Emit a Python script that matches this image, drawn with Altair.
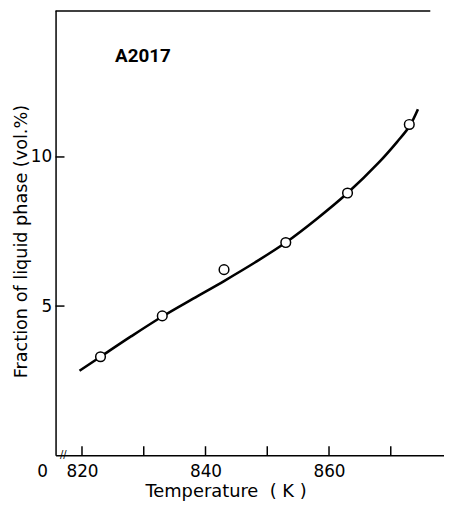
import altair as alt
import pandas as pd

# measured data points (open circles)
temp_pts = [823, 833, 843, 853, 863, 873]
frac_pts = [3.30, 4.67, 6.22, 7.13, 8.79, 11.09]

# fitted curve
curve_t = [819.6, 823, 828, 833, 838, 843, 848, 853, 858, 863, 868, 871, 873, 874.4]
curve_v = [2.83, 3.30, 3.99, 4.65, 5.25, 5.84, 6.46, 7.13, 7.92, 8.79, 9.80, 10.50, 11.02, 11.60]

x_ticks = [820, 830, 840, 850, 860, 870]
x_labels = [820, 840, 860]
y_ticks = [5, 10]

X_MIN, X_MAX = 815.72, 878.62
Y_MAX = 14.92
TOP_LINE_END = 876.4

FONT = "DejaVu Sans"
W, H = 392, 449

xs = alt.Scale(domain=[X_MIN, X_MAX], nice=False, zero=False)
ys = alt.Scale(domain=[0, Y_MAX], nice=False, zero=True)

x_axis = alt.Axis(
    values=x_labels, ticks=False, tickSize=0, grid=False, format="d",
    domainColor="black", domainWidth=1.5,
    labelFont=FONT, labelFontSize=17, labelColor="black",
    labelPadding=9, labelFlush=False,
    title="Temperature\u00a0\u00a0( K )", titleFont=FONT, titleFontSize=18,
    titleFontWeight="normal", titleColor="black",
    titleX=171.5, titleY=42, titleBaseline="alphabetic", titleAlign="center",
)
y_axis = alt.Axis(
    values=y_ticks, ticks=False, tickSize=0, grid=False, format="d",
    domainColor="black", domainWidth=1.5,
    labelFont=FONT, labelFontSize=17, labelColor="black",
    labelPadding=4, labelFlush=False,
    title="Fraction of liquid phase (vol.%)", titleFont=FONT, titleFontSize=17.8,
    titleFontWeight="normal", titleColor="black",
    titleX=-34, titleY=233, titleBaseline="middle", titleAlign="center",
)

def X(f):
    return alt.X(f, scale=xs, axis=x_axis)

def Y(f):
    return alt.Y(f, scale=ys, axis=y_axis)

curve_df = pd.DataFrame({"T": curve_t, "F": curve_v})
pts_df = pd.DataFrame({"T": temp_pts, "F": frac_pts})

line = alt.Chart(curve_df).mark_line(
    color="black", strokeWidth=2.6, interpolate="catmull-rom"
).encode(x=X("T:Q"), y=Y("F:Q"))

points = alt.Chart(pts_df).mark_point(
    shape="circle", filled=True, fill="white", stroke="black",
    strokeWidth=1.5, size=95, opacity=1
).encode(x=X("T:Q"), y=Y("F:Q"))

xtick_rules = alt.Chart(pd.DataFrame({"T": x_ticks})).mark_rule(
    color="black", strokeWidth=1.5
).encode(x=X("T:Q"), y=alt.value(H), y2=alt.value(H - 9))

ytick_rules = alt.Chart(pd.DataFrame({"F": y_ticks})).mark_rule(
    color="black", strokeWidth=1.5
).encode(y=Y("F:Q"), x=alt.value(0), x2=alt.value(9))

top_line = alt.Chart(pd.DataFrame({"a": [X_MIN], "b": [TOP_LINE_END]})).mark_rule(
    color="black", strokeWidth=1.5
).encode(x=X("a:Q"), x2="b:Q", y=alt.value(0.75))

zero_lbl = alt.Chart(pd.DataFrame({"T": [X_MIN], "F": [0], "t": ["0"]})).mark_text(
    font=FONT, fontSize=17, color="black",
    align="center", baseline="middle", dx=-13, dy=17
).encode(x=X("T:Q"), y=Y("F:Q"), text="t:N")

brk = alt.Chart(pd.DataFrame({"T": [816.97], "F": [0], "t": ["//"]})).mark_text(
    font="DejaVu Sans", fontSize=10, color="black",
    align="center", baseline="middle"
).encode(x=X("T:Q"), y=Y("F:Q"), text="t:N")

label = alt.Chart(pd.DataFrame({"T": [825.35], "F": [13.19], "t": ["A2017"]})).mark_text(
    font="Roboto", fontSize=19, fontWeight="bold", color="black",
    align="left", baseline="alphabetic"
).encode(x=X("T:Q"), y=Y("F:Q"), text="t:N")

chart = alt.layer(
    line, points, xtick_rules, ytick_rules, top_line, zero_lbl, brk, label
).properties(
    width=W, height=H,
    autosize=alt.AutoSizeParams(type="none"),
    padding={"left": 48, "top": 0, "right": 0, "bottom": 45},
    background="white",
).configure_view(strokeWidth=0)

chart.save("out.html", embed_options={"renderer": "svg", "actions": False})
